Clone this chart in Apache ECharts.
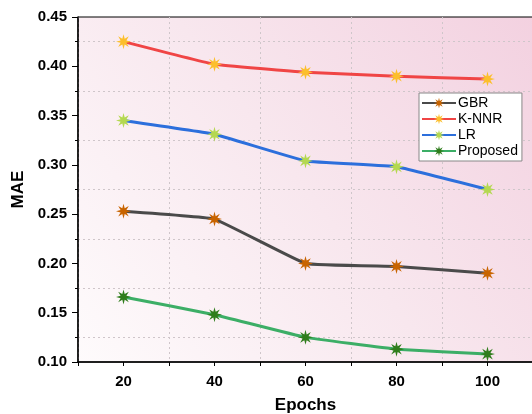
<!DOCTYPE html>
<html>
<head>
<meta charset="utf-8">
<script src="https://cdn.jsdelivr.net/npm/echarts@6/dist/echarts.min.js"></script>
<style>
  html, body { margin: 0; padding: 0; background: #fff; }
  #chart { width: 532px; height: 414px; }
</style>
</head>
<body>
<div id="chart"></div>
<script>
// values
const epochs = ['20', '40', '60', '80', '100']
const gbr = [0.253, 0.245, 0.200, 0.197, 0.190]
const knnr = [0.425, 0.402, 0.394, 0.390, 0.387]
const lr = [0.345, 0.331, 0.304, 0.298, 0.275]
const proposed = [0.166, 0.148, 0.125, 0.113, 0.108]

// eight-armed asterisk marker
const asterisk = (() => {
  const pts = []
  for (let i = 0; i < 16; i++) {
    const r = i % 2 === 0 ? 10 : 4.2
    const a = (Math.PI / 8) * i - Math.PI / 2
    pts.push((10 + r * Math.cos(a)).toFixed(2) + ',' + (10 + r * Math.sin(a)).toFixed(2))
  }
  return 'path://M' + pts.join('L') + 'Z'
})()

const makeSeries = (name, data, lineColor, markColor) => ({
  name,
  type: 'line',
  data,
  smooth: 0.08,
  symbol: asterisk,
  symbolSize: 15,
  itemStyle: { color: markColor },
  lineStyle: { color: lineColor, width: 3 },
  z: 3
})

const chart = echarts.init(document.getElementById('chart'), null, { renderer: 'canvas' })

chart.setOption({
  backgroundColor: '#fff',
  animation: false,
  grid: {
    left: 78, top: 17, right: -1, bottom: 52,
    outerBoundsMode: 'none',
    show: true,
    borderColor: '#000',
    borderWidth: 1,
    backgroundColor: new echarts.graphic.LinearGradient(0, 1, 1, 0, [
      { offset: 0, color: '#fefbfc' },
      { offset: 0.5, color: '#f8e7ee' },
      { offset: 1, color: '#f3d1e0' }
    ])
  },
  legend: {
    orient: 'vertical',
    left: 419,
    top: 93,
    itemWidth: 34,
    itemHeight: 13,
    itemGap: 2,
    padding: [3, 4, 3, 2],
    backgroundColor: '#fff',
    borderColor: '#888',
    borderWidth: 1,
    borderRadius: 0,
    textStyle: { fontFamily: 'Liberation Sans', fontSize: 14, color: '#000', padding: [0, 0, 0, -3] },
    data: ['GBR', 'K-NNR', 'LR', 'Proposed']
  },
  xAxis: [{
    type: 'category',
    data: epochs,
    boundaryGap: true,
    name: 'Epochs',
    nameLocation: 'middle',
    nameGap: 35,
    nameTextStyle: { fontFamily: 'Liberation Sans', fontSize: 17, fontWeight: 'bold', color: '#000' },
    axisLine: { lineStyle: { color: '#000', width: 1.5 } },
    axisTick: { show: true, length: 4, lineStyle: { color: '#000' } },
    axisLabel: { margin: 12, fontFamily: 'Liberation Sans', fontSize: 15, fontWeight: 'bold', color: '#000' },
    splitLine: { show: true, lineStyle: { color: '#cfc6ca', type: [2, 3], width: 1 } }
  }, {
    type: 'category',
    data: epochs,
    position: 'bottom',
    boundaryGap: true,
    axisLine: { show: false },
    axisTick: { show: true, alignWithLabel: true, length: 4, lineStyle: { color: '#000' } },
    axisLabel: { show: false },
    splitLine: { show: false }
  }],
  yAxis: {
    type: 'value',
    min: 0.10,
    max: 0.45,
    interval: 0.05,
    name: 'MAE',
    nameLocation: 'middle',
    nameGap: 48,
    nameTextStyle: { fontFamily: 'Liberation Sans', fontSize: 17, fontWeight: 'bold', color: '#000' },
    axisLine: { show: true, lineStyle: { color: '#000', width: 1.5 } },
    axisTick: { show: true, length: 6, lineStyle: { color: '#000' } },
    minorTick: { show: true, splitNumber: 2, length: 3, lineStyle: { color: '#000' } },
    axisLabel: {
      margin: 11,
      fontFamily: 'Liberation Sans',
      fontSize: 15,
      fontWeight: 'bold',
      color: '#000',
      formatter: v => v.toFixed(2)
    },
    splitLine: { show: false },
    minorSplitLine: { show: true, lineStyle: { color: '#cfc6ca', type: [2, 3], width: 1 } }
  },
  series: [
    makeSeries('GBR', gbr, '#4a4a4a', '#c86400'),
    makeSeries('K-NNR', knnr, '#f04545', '#fcbf2c'),
    makeSeries('LR', lr, '#2c6fdc', '#b4d850'),
    makeSeries('Proposed', proposed, '#3cae66', '#2f7d1c')
  ]
})
</script>
</body>
</html>
